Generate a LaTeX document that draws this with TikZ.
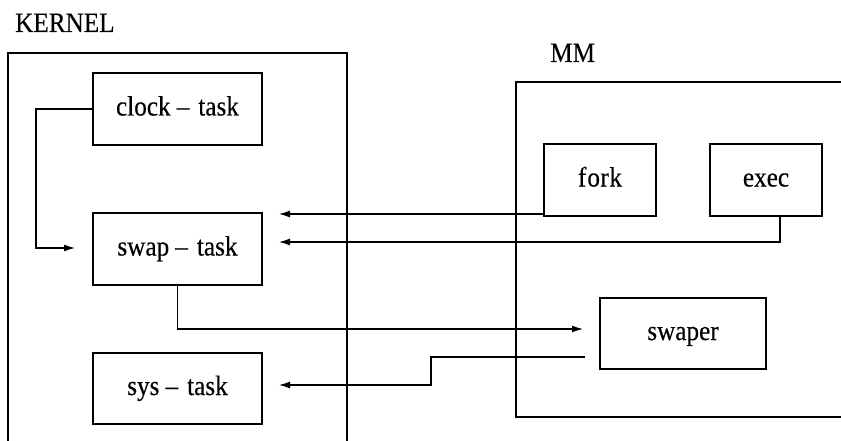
\documentclass[tikz,border=0pt]{standalone}
\usepackage{fontspec}
\setmainfont{Liberation Serif}[FakeStretch=0.9, FakeBold=0.3]
\usetikzlibrary{arrows.meta}
\tikzset{
  taskbox/.style={draw, line width=1.4pt, inner sep=0pt, align=center, text height=13pt, text depth=0pt},
  frame/.style={line width=1.3pt},
  conn/.style={line width=1.3pt},
  arr/.style={conn, -{Latex[length=11pt,width=7pt]}},
  lbl/.style={inner sep=0pt, anchor=base west}
}
\begin{document}
\begin{tikzpicture}[x=1pt, y=-1pt, font=\fontsize{28}{32}\selectfont]
\useasboundingbox (0,0) rectangle (841,441);
% containers
\draw[frame] (8,441) -- (8,53) -- (347,53) -- (347,441);
\draw[frame] (841,82) -- (516,82) -- (516,417) -- (841,417);
\node[lbl] (kernel) at (15,32) {KERNEL};
\node[lbl] (mm) at (550,62) {MM};
% task boxes
\node[taskbox, minimum width=169pt, minimum height=72pt] (clock) at (177.5,109) {clock\hspace{0.22em}–\hspace{0.32em}task};
\node[taskbox, minimum width=169pt, minimum height=72pt] (swap) at (177.5,249) {swap\hspace{0.22em}–\hspace{0.32em}task};
\node[taskbox, minimum width=169pt, minimum height=71pt] (sys) at (177.5,388.5) {sys\hspace{0.22em}–\hspace{0.32em}task};
\node[taskbox, minimum width=112pt, minimum height=72pt] (fork) at (600,180) {f\kern1pt o\kern0.5pt r\kern0.5pt k};
\node[taskbox, minimum width=112pt, minimum height=72pt] (exec) at (766,180) {exec};
\node[taskbox, minimum width=166pt, minimum height=71pt] (swaper) at (683,333.5) {swaper};
% free ends
\coordinate (clockend) at (75,248);
\coordinate (forkend) at (279,214);
\coordinate (execend) at (279,242);
\coordinate (swapend) at (583,329);
\coordinate (swaperstart) at (585,357);
\coordinate (sysend) at (279,385);
% connectors
\draw[arr] (clock.west) -- (36,109) |- (clockend);
\draw[arr] (fork.west |- forkend) -- (forkend);
\draw[arr] ([xshift=14pt]exec.south) |- (execend);
\draw[arr] (swap.south) |- (swapend);
\draw[arr] (swaperstart) -- (431,357) -- (431,385) -- (sysend);
\end{tikzpicture}
\end{document}
